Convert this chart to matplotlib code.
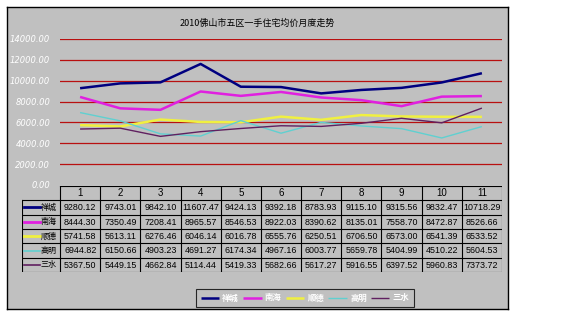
import matplotlib
matplotlib.use("Agg")
import matplotlib.pyplot as plt

plt.rcParams['font.family'] = ['Noto Sans CJK SC', 'DejaVu Sans']

title = "2010佛山市五区一手住宅均价月度走势"
months = [str(i) for i in range(1, 12)]
districts = ["禅城", "南海", "顺德", "高明", "三水"]

chancheng = [9280.12, 9743.01, 9842.10, 11607.47, 9424.13, 9392.18, 8783.93, 9115.10, 9315.56, 9832.47, 10718.29]
nanhai = [8444.30, 7350.49, 7208.41, 8965.57, 8546.53, 8922.03, 8390.62, 8135.01, 7558.70, 8472.87, 8526.66]
shunde = [5741.58, 5613.11, 6276.46, 6046.14, 6016.78, 6555.76, 6250.51, 6706.50, 6573.00, 6541.39, 6533.52]
gaoming = [6944.82, 6150.66, 4903.23, 4691.27, 6174.34, 4967.16, 6003.77, 5659.78, 5404.99, 4510.22, 5604.53]
sanshui = [5367.50, 5449.15, 4662.84, 5114.44, 5419.33, 5682.66, 5617.27, 5916.55, 6397.52, 5960.83, 7373.72]
series = [chancheng, nanhai, shunde, gaoming, sanshui]

yticks = [0, 2000, 4000, 6000, 8000, 10000, 12000, 14000]

colors = ["#000080", "#E020E0", "#F0F040", "#60D0D0", "#602060"]
widths = [1.8, 1.8, 1.8, 1.0, 1.0]
GRAY = "#C0C0C0"

W, H = 570, 323
fig = plt.figure(figsize=(W / 100, H / 100), dpi=100)


def px_axes(x0, y0, x1, y1):
    # axes from pixel box (top-left origin)
    return fig.add_axes([x0 / W, 1 - y1 / H, (x1 - x0) / W, (y1 - y0) / H])


# outer chart frame
bg = px_axes(7, 7, 508, 309)
bg.set_facecolor(GRAY)
bg.set_xticks([]); bg.set_yticks([])
for s in bg.spines.values():
    s.set_linewidth(1.0)
    s.set_color("black")
bg.text(0.5, (309 - 23) / 302, title, transform=bg.transAxes,
        ha="center", va="center", fontsize=6.5)

# plot area
ax = px_axes(60, 39, 502, 185)
ax.set_facecolor("none")
ax.set_xlim(0, 11)
ax.set_ylim(0, 14000)
for s in ax.spines.values():
    s.set_visible(False)
ax.set_xticks([])
ax.set_yticks(yticks)
ax.set_yticklabels([f"{v:.2f}" for v in yticks], color="white",
                   style="italic", fontsize=6, family="DejaVu Sans")
ax.tick_params(axis="y", length=0, pad=7)
for v in yticks[1:]:
    ax.axhline(v, color="#B81010", lw=0.9, zorder=1)

xs = [i + 0.5 for i in range(len(months))]
for name, vals, c, lw in zip(districts, series, colors, widths):
    ax.plot(xs, vals, color=c, lw=lw, label=name, zorder=3, solid_capstyle="butt")

# data table under the plot
tab = px_axes(22, 186, 502, 272)
tab.set_facecolor("none")
tab.axis("off")
left = -38 / (440 / 11)
tab.set_xlim(left, 11)
tab.set_ylim(6, 0)
line_kw = dict(color="black", lw=0.8)
# header row
tab.plot([0, 11], [0, 0], **line_kw)
for i in range(12):
    tab.plot([i, i], [0, 1], **line_kw)
for i, m in enumerate(months):
    tab.text(i + 0.5, 0.5, m, ha="center", va="center", fontsize=7,
             family="Liberation Sans")
# body rows
for r in range(1, 7):
    tab.plot([left, 11], [r, r], **line_kw)
tab.plot([left, left], [1, 6], **line_kw)
for i in range(0, 12):
    tab.plot([i, i], [1, 6], **line_kw)
for r, (name, vals, c, lw) in enumerate(zip(districts, series, colors, widths), start=1):
    tab.plot([left + 0.06, left + 0.44], [r + 0.5, r + 0.5], color=c, lw=lw + 0.2)
    tab.text(left + 0.46, r + 0.5, name, ha="left", va="center", fontsize=5.8)
    for i, v in enumerate(vals):
        tab.text(i + 0.5, r + 0.52, f"{v:.2f}", ha="center", va="center",
                 fontsize=6.4, family="Liberation Sans")

# legend at the bottom
leg = ax.legend(loc="center", bbox_to_anchor=((305 - 60) / 442, (185 - 298) / 146),
                ncol=5, frameon=True, handlelength=2.2,
                handletextpad=0.4, columnspacing=0.5, borderpad=0.5,
                prop={"style": "italic", "weight": "bold", "size": 6})
leg.get_frame().set_facecolor(GRAY)
leg.get_frame().set_edgecolor("black")
leg.get_frame().set_linewidth(0.8)
leg.get_frame().set_boxstyle("square", pad=0)
for t in leg.get_texts():
    t.set_color("white")

fig.savefig("out.png", dpi=100)
